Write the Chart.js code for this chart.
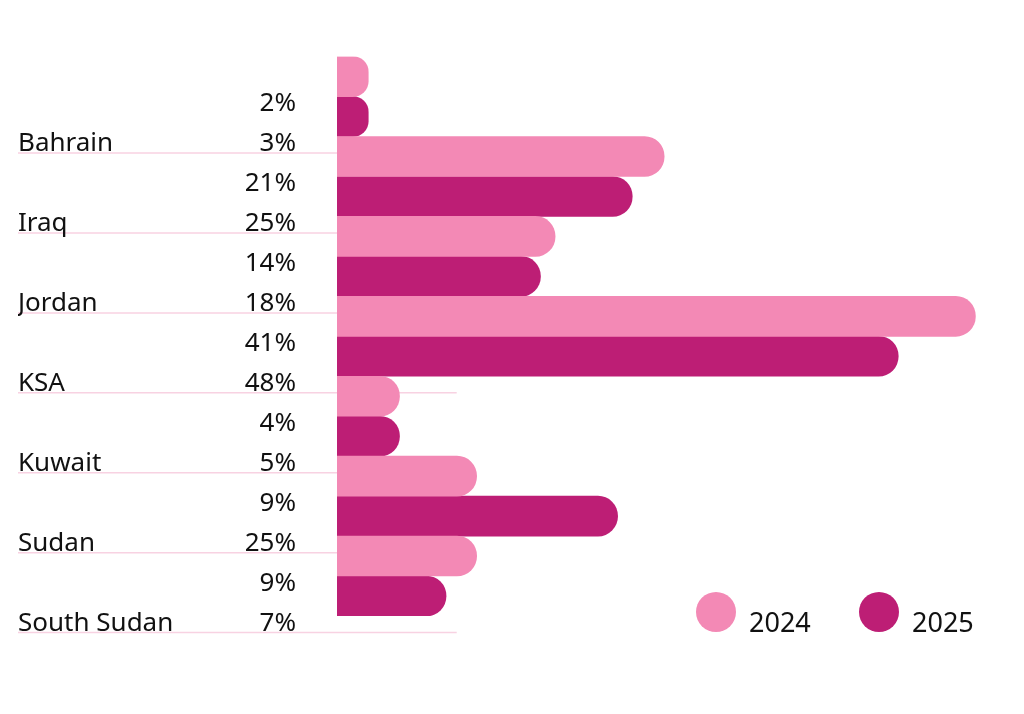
<!DOCTYPE html>
<html>
<head>
<meta charset="utf-8">
<title>Country comparison 2024 / 2025</title>
<script src="https://cdn.jsdelivr.net/npm/chart.js@4.4.1/dist/chart.umd.min.js"></script>
<style>
    html, body { margin: 0; padding: 0; background: #ffffff; }
    canvas { display: block; }
</style>
</head>
<body>
<canvas id="countryChart" width="1024" height="714"></canvas>
<script>
const countries = ['Bahrain', 'Iraq', 'Jordan', 'KSA', 'Kuwait', 'Sudan', 'South Sudan'];
const values2024 = [2.35, 24.6, 16.4, 48, 4.7, 10.5, 10.5];
const values2025 = [2.35, 22.2, 15.3, 42.2, 4.7, 21.1, 8.2];
const pctLabels = ['2%', '3%', '21%', '25%', '14%', '18%', '41%', '48%', '4%', '5%', '9%', '25%', '9%', '7%'];
const seriesNames = ['2024', '2025'];
const xMax = 50;
const guideEnd = 9;

const lightPink = '#f389b5';
const magenta = '#bd1e75';
const textColor = '#111111';

Chart.defaults.font.family = '"Noto Sans", sans-serif';

// thin pink rules under each country name, drawn first so text and bars sit on top
const guidePlugin = {
    id: 'guides',
    beforeDraw(chart) {
        const y = chart.scales.y;
        const x = chart.scales.x;
        const ctx = chart.ctx;
        ctx.save();
        ctx.strokeStyle = '#f8d2e2';
        ctx.lineWidth = 1.5;
        countries.forEach(function(c, i) {
            const py = y.getPixelForValue(i) + 56.5;
            ctx.beginPath();
            ctx.moveTo(y.left, py);
            ctx.lineTo(x.getPixelForValue(guideEnd), py);
            ctx.stroke();
        });
        ctx.restore();
    }
};

// round dots legend in the lower right corner
const dotLegend = {
    id: 'dotLegend',
    afterDraw(chart) {
        const ctx = chart.ctx;
        const cy = chart.chartArea.bottom - 4;
        const starts = [716, 879];
        ctx.save();
        ctx.font = '27px "Noto Sans"';
        ctx.textBaseline = 'alphabetic';
        ctx.textAlign = 'left';
        chart.data.datasets.forEach(function(ds, i) {
            ctx.fillStyle = ds.backgroundColor;
            ctx.beginPath();
            ctx.arc(starts[i], cy, 20, 0, Math.PI * 2);
            ctx.fill();
            ctx.fillStyle = textColor;
            ctx.fillText(ds.label, starts[i] + 33, cy + 20);
        });
        ctx.restore();
    }
};

const ctx = document.getElementById('countryChart').getContext('2d');
new Chart(ctx, {
    type: 'bar',
    data: {
        labels: countries,
        datasets: [{
            label: seriesNames[0],
            data: values2024,
            backgroundColor: lightPink,
            xAxisID: 'x',
            yAxisID: 'y'
        }, {
            label: seriesNames[1],
            data: values2025,
            backgroundColor: magenta,
            xAxisID: 'x',
            yAxisID: 'y'
        }]
    },
    options: {
        indexAxis: 'y',
        responsive: false,
        animation: false,
        layout: {
            padding: { left: 18, right: 22, top: 56, bottom: 98 }
        },
        datasets: {
            bar: {
                barPercentage: 1,
                categoryPercentage: 1,
                borderRadius: 20,
                borderSkipped: 'start'
            }
        },
        plugins: {
            legend: { display: false },
            tooltip: { enabled: false }
        },
        scales: {
            x: {
                display: false,
                min: 0,
                max: xMax
            },
            y: {
                position: 'left',
                weight: 1,
                grid: { display: false, drawTicks: false },
                border: { display: false },
                ticks: {
                    crossAlign: 'far',
                    labelOffset: 47.5,
                    padding: 0,
                    autoSkip: false,
                    color: textColor,
                    font: { size: 26 }
                },
                afterFit: function(scale) { scale.width = 219; }
            },
            pct: {
                type: 'category',
                axis: 'y',
                position: 'left',
                weight: 0,
                labels: pctLabels,
                offset: true,
                grid: { display: false, drawTicks: false },
                border: { display: false },
                ticks: {
                    padding: 41,
                    labelOffset: 27.5,
                    autoSkip: false,
                    color: textColor,
                    font: { size: 26 }
                },
                afterFit: function(scale) { scale.width = 100; }
            }
        }
    },
    plugins: [guidePlugin, dotLegend]
});
</script>
</body>
</html>
